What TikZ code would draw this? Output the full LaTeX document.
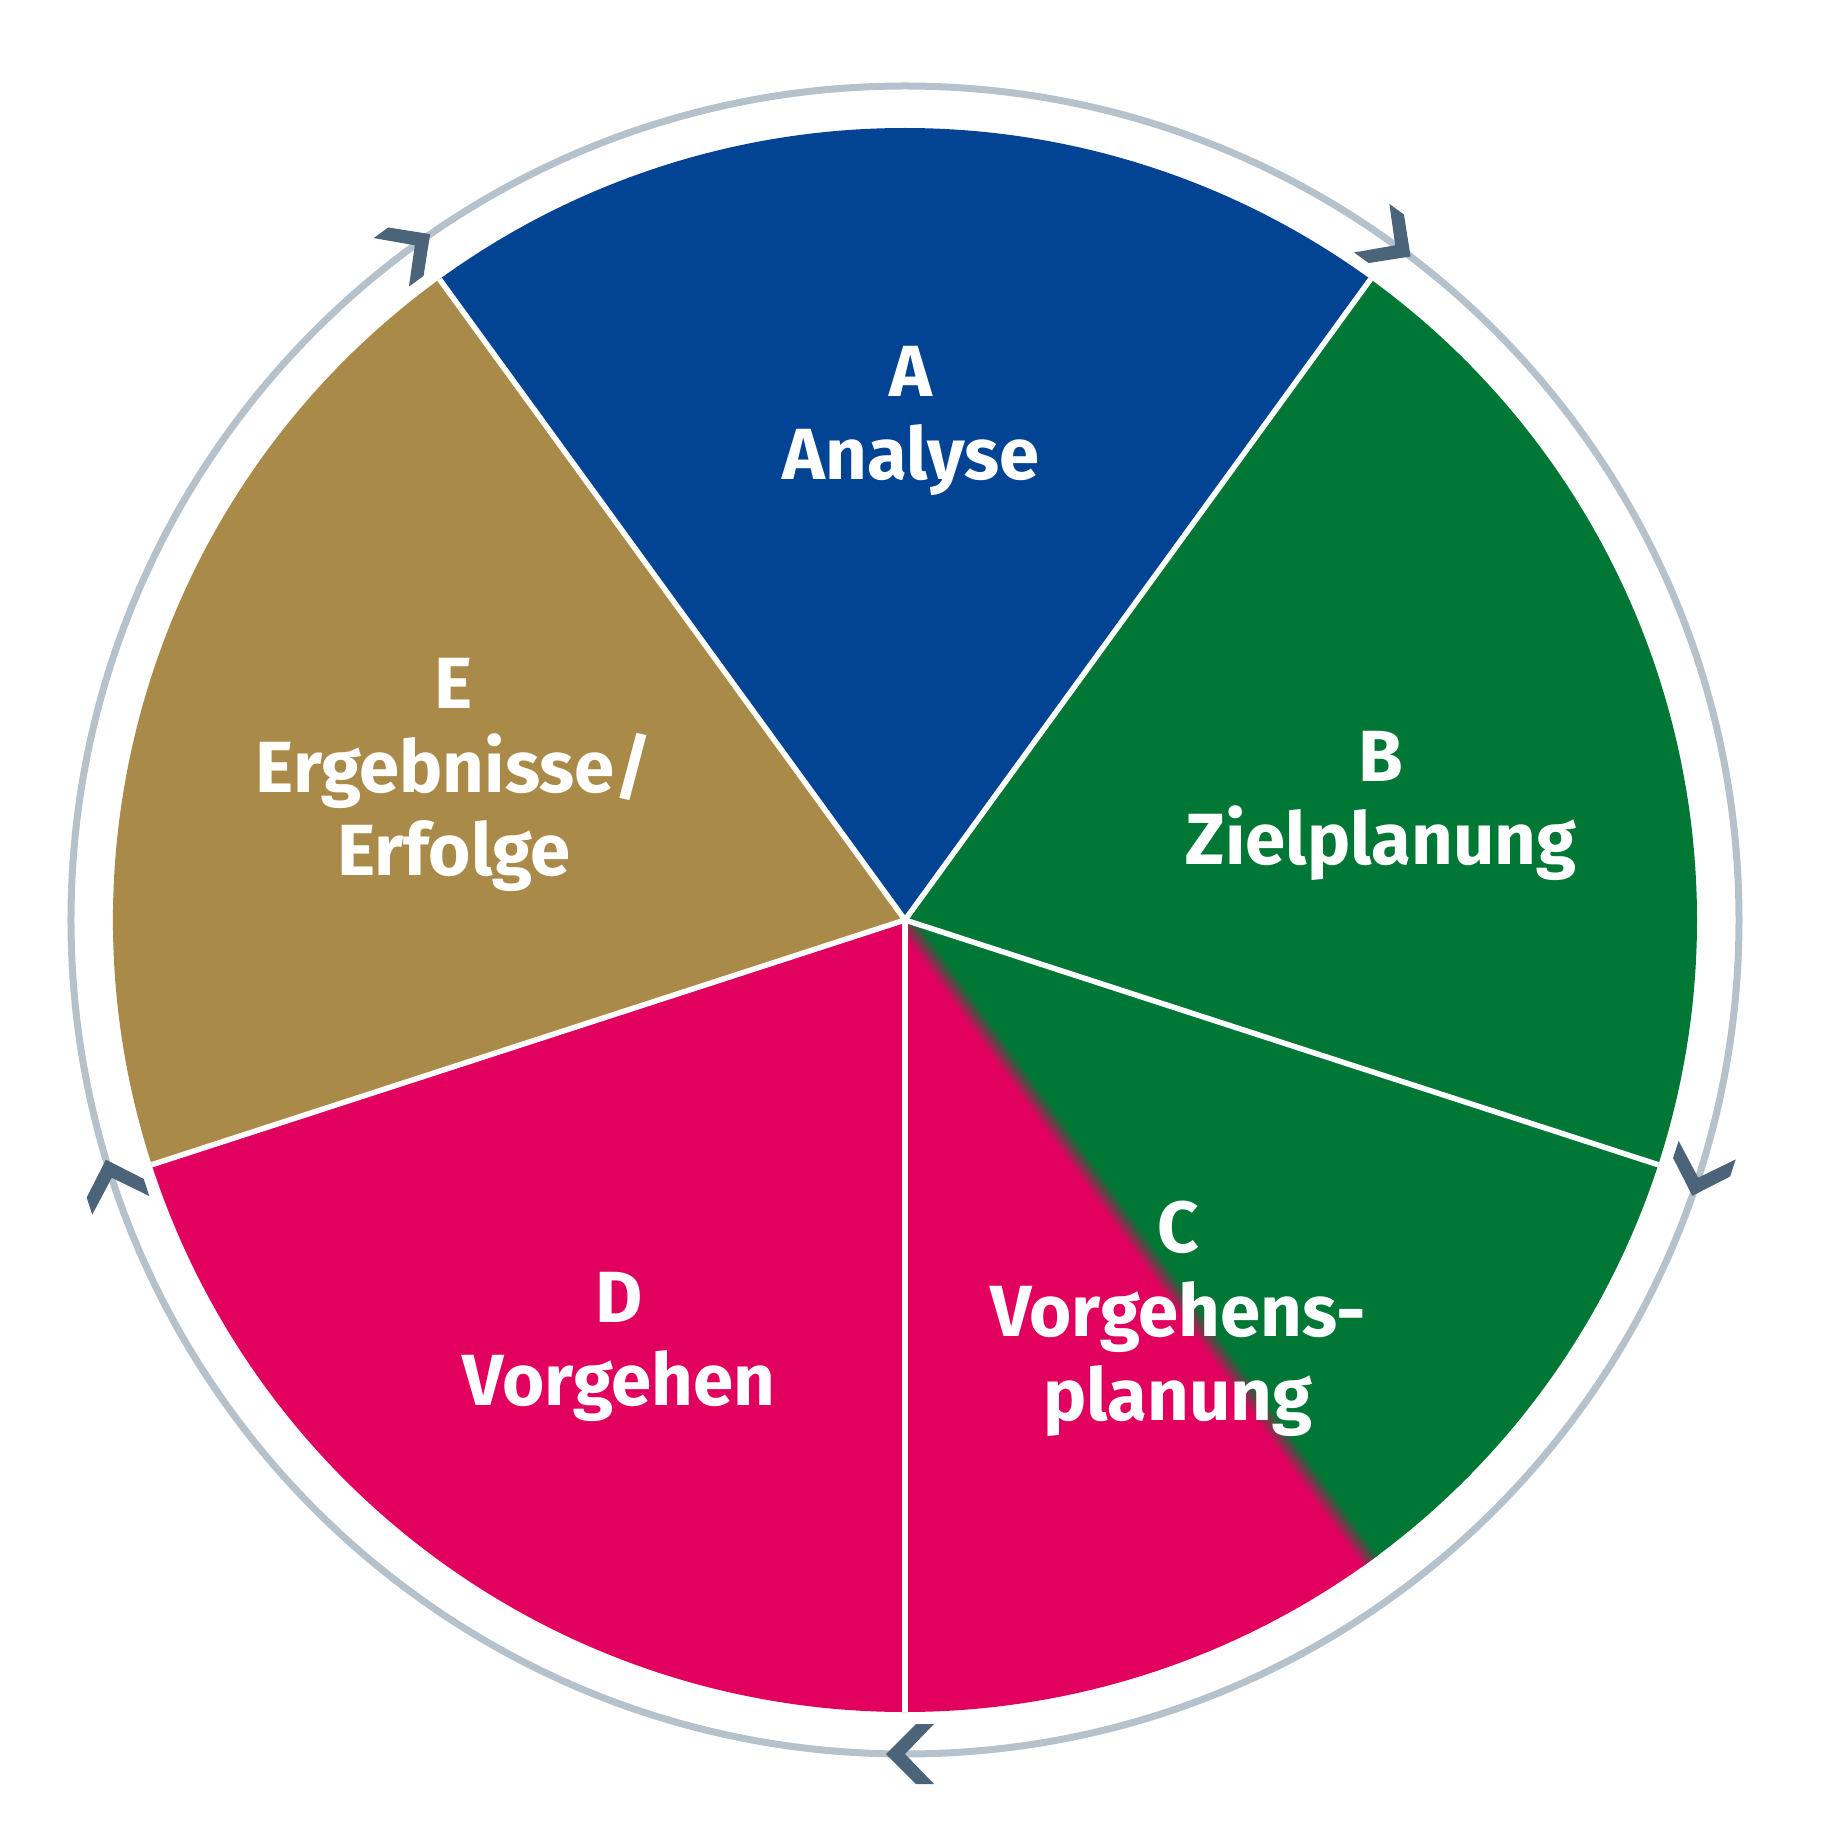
\documentclass[tikz,border=0pt]{standalone}
\usepackage{fontspec}
\setmainfont{Fira Sans}
\definecolor{blueA}{HTML}{024393}
\definecolor{greenB}{HTML}{007735}
\definecolor{pinkD}{HTML}{E2005F}
\definecolor{goldE}{HTML}{AA8A49}
\definecolor{ringgray}{HTML}{B5C2CC}
\definecolor{chevgray}{HTML}{4B647A}
\tikzset{
  lbl/.style={text=white, align=center, inner sep=0pt, font=\fontsize{29}{33.5}\selectfont\bfseries},
  sep/.style={white, line width=2.2pt},
  chev/.style={fill=chevgray},
}
\begin{document}
\begin{tikzpicture}[x=0.4pt,y=0.4pt]
\useasboundingbox (-905,-912) rectangle (915,920);

\fill[blueA] (0,0) -- (54:792) arc[start angle=54,end angle=126,radius=792] -- cycle;
\fill[greenB] (0,0) -- (-54:792) arc[start angle=-54,end angle=54,radius=792] -- cycle;
\fill[pinkD] (0,0) -- (-162:792) arc[start angle=-162,end angle=-54,radius=792] -- cycle;
\fill[goldE] (0,0) -- (126:792) arc[start angle=126,end angle=198,radius=792] -- cycle;

\begin{scope}
\clip (0,0) -- (-90:792) arc[start angle=-90,end angle=-18,radius=792] -- cycle;
\begin{scope}[rotate=-54]
\foreach \d [evaluate=\d as \p using 50-5*\d] in {-10,...,10}
  \draw[line width=0.5pt, pinkD!\p!greenB] (-20,\d) -- (820,\d);
\end{scope}
\end{scope}

\foreach \a in {54,126,198,270,342}
  \draw[sep] (0,0) -- (\a:792);

\draw[ringgray, line width=2.8pt] (0,0) circle[radius=834];

\foreach \a in {54,-18,-90,-162,126}
  \fill[chev, shift={(\a:834)}, rotate=\a-90] (19,0) -- (-11,30) -- (-29,30) -- (0,0) -- (-29,-30) -- (-11,-30) -- cycle;

\node[lbl] (labA) at (6,499) {A\\Analyse};
\node[lbl] (labB) at (476,114) {B\\Zielplanung};
\node[lbl] (labC) at (273,-399) {C\\Vorgehens-\\planung};
\node[lbl] (labD) at (-286,-427) {D\\Vorgehen};
\node[lbl] (labE) at (-451,145) {E\\Ergebnisse/\\Erfolge};
\end{tikzpicture}
\end{document}
